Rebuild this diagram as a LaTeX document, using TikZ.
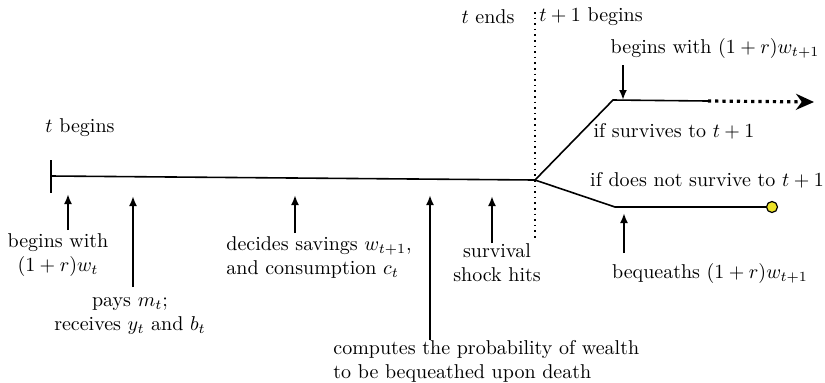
\documentclass[tikz,border=0pt]{standalone}
\usetikzlibrary{arrows.meta}
\definecolor{dotyellow}{RGB}{236,226,40}
\begin{document}
\begin{tikzpicture}[x=0.5pt,y=-0.5pt,
  lbl/.style={inner sep=0pt},
  ln/.style={line width=0.8pt},
  uparrow/.style={line width=1.2pt,-{Latex[length=5pt,width=4pt]}},
  endball/.style={circle,draw=black,line width=0.6pt,fill=dotyellow,minimum size=5.5pt,inner sep=0pt}]
\useasboundingbox (0,0) rectangle (825,382);
% main line
\coordinate (start) at (51,176);
\coordinate (split) at (535,180);
\draw[ln] (start) -- (split);
\coordinate (tickT) at (51,160);
\coordinate (tickB) at (51,193);
\draw[ln] (tickT) -- (tickB);
\node[lbl] (tbeg) at (80,128) {$t$ begins};
% period boundary
\coordinate (dtop) at (535,12);
\coordinate (dbot) at (535,240);
\draw[dotted,line width=0.8pt] (dtop) -- (dbot);
\node[lbl] (tend) at (488,17) {$t$ ends};
\node[lbl] (tnext) at (591,17) {$t+1$ begins};
% survive branch
\coordinate (ua) at (613,100);
\coordinate (ub) at (708,101);
\coordinate (uc) at (814,102);
\draw[ln] (split) -- (ua) -- (ub);
\draw[line width=1.6pt,dotted,-{Stealth[length=9pt,width=8pt]}] (ub) -- (uc);
\node[lbl] (survt) at (674,131) {if survives to $t+1$};
\node[lbl] (bwt1) at (715,48) {begins with $(1+r)w_{t+1}$};
\coordinate (a6t) at (623,65);
\coordinate (a6h) at (623,100);
\draw[uparrow] (a6t) -- (a6h);
% death branch
\coordinate (la) at (615,207);
\coordinate (lb) at (772,207);
\draw[ln] (split) -- (la) -- (lb);
\node[endball] (ball) at (lb) {};
\node[lbl] (nsurv) at (707,180) {if does not survive to $t+1$};
\node[lbl] (beq) at (710,273) {bequeaths $(1+r)w_{t+1}$};
\coordinate (a7t) at (624,253);
\coordinate (a7h) at (624,213);
\draw[uparrow] (a7t) -- (a7h);
% events during t
\node[lbl,align=center] (b1) at (58,255) {begins with\\$(1+r)w_t$};
\coordinate (a1t) at (68,230);
\coordinate (a1h) at (68,194);
\draw[uparrow] (a1t) -- (a1h);
\node[lbl,align=center] (b2) at (130,316) {pays $m_t$;\\receives $y_t$ and $b_t$};
\coordinate (a2t) at (133,287);
\coordinate (a2h) at (133,196);
\draw[uparrow] (a2t) -- (a2h);
\node[lbl,align=left,anchor=west] (b3) at (226,257) {decides savings $w_{t+1}$,\\and consumption $c_t$};
\coordinate (a3t) at (295,233);
\coordinate (a3h) at (295,195);
\draw[uparrow] (a3t) -- (a3h);
\node[lbl,align=left,anchor=west] (b4) at (333,361) {computes the probability of wealth\\to be bequeathed upon death};
\coordinate (a4t) at (430,340);
\coordinate (a4h) at (430,195);
\draw[uparrow] (a4t) -- (a4h);
\node[lbl,align=center] (b5) at (497,263) {survival\\shock hits};
\coordinate (a5t) at (492,243);
\coordinate (a5h) at (492,196);
\draw[uparrow] (a5t) -- (a5h);
\end{tikzpicture}
\end{document}
